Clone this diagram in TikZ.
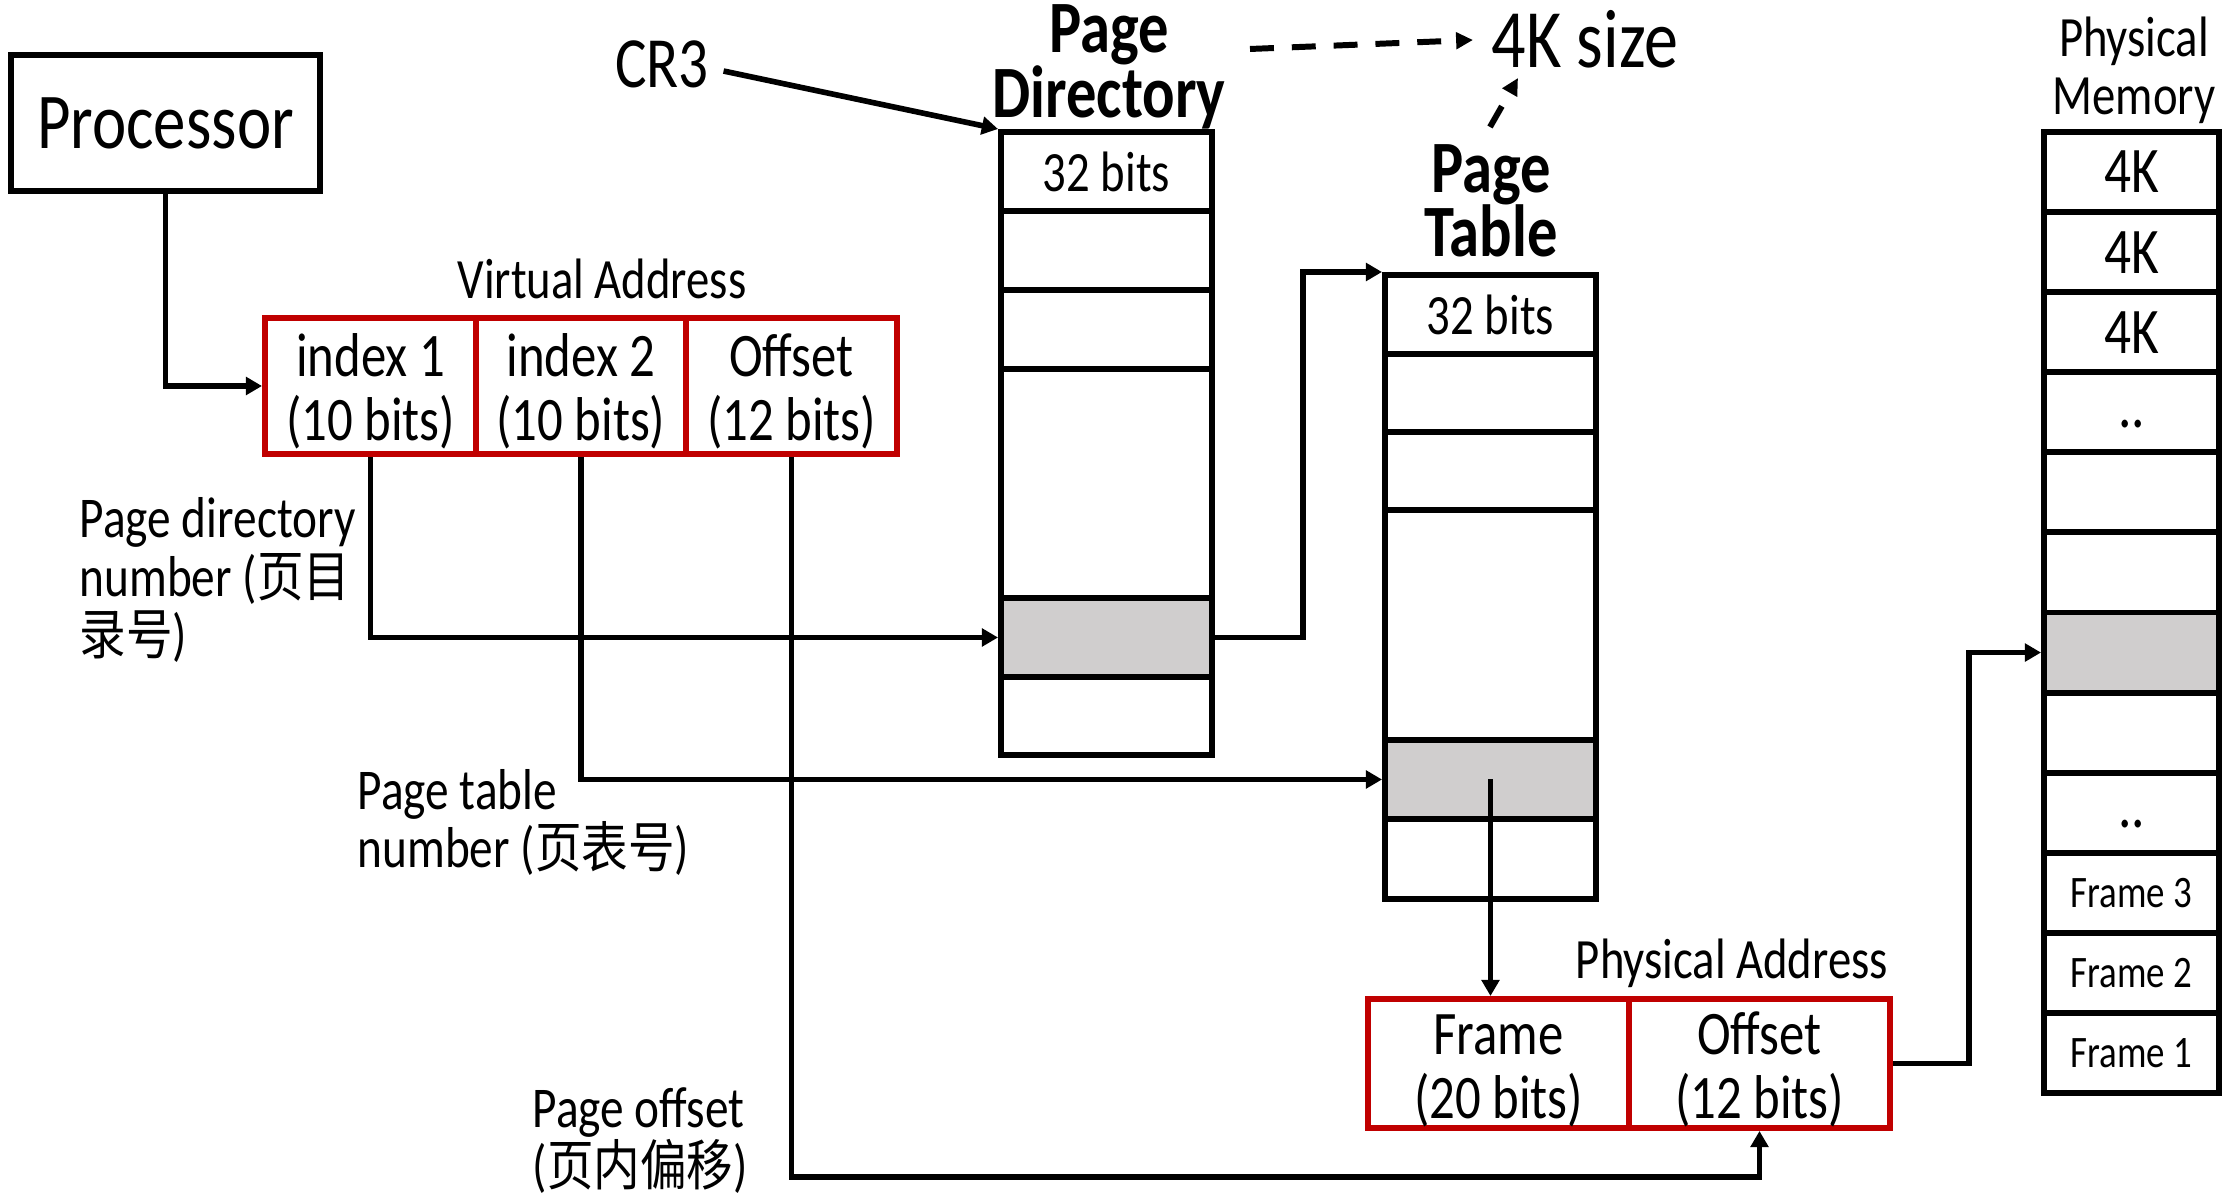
\documentclass[tikz,border=0pt]{standalone}
\usepackage{fontspec}
\setmainfont{Carlito}[FakeStretch=0.82]
\newfontfamily\cjk{Noto Sans CJK SC}[FakeStretch=0.85,Scale=0.95]
\usetikzlibrary{arrows.meta,calc}
\definecolor{boxred}{RGB}{192,0,0}
\definecolor{cellgray}{RGB}{208,206,206}
\newcommand\fs[2]{\fontsize{#1}{#2}\selectfont}
\newcommand\upstrut{\rule{0pt}{15.5pt}}
\lineskiplimit=-100pt
\begin{document}
\begin{tikzpicture}[x=0.01cm,y=-0.01cm,
  every node/.style={inner sep=0pt},
  rect/.style n args={4}{at={({(#1+#3)/2},{(#2+#4)/2})},
     minimum width={(#3-#1)*0.01cm}, minimum height={(#4-#2)*0.01cm}},
  cell/.style={draw, line width=1.7pt, inner sep=0pt, align=center},
  redcell/.style={draw=boxred, line width=1.7pt, inner sep=0pt, align=center, font=\fs{17.6}{18.2}},
  graycell/.style={cell, fill=cellgray},
  bitstext/.style={font=\fs{16.2}{17}},
  pmtext/.style={font=\fs{18.5}{19}},
  frametext/.style={font=\fs{12.8}{13}},
  conn/.style={line width=1.6pt, -{Triangle[length=4.6pt,width=5pt]}},
  dasharr/.style={line width=1.7pt, dash pattern=on 6.8pt off 5.1pt, -{Triangle[length=4.8pt,width=4.6pt]}},
  lbl/.style={align=left, font=\fs{16.4}{16.5}},
  ttl/.style={align=center, font=\bfseries\fs{21}{18.3}},
]
\useasboundingbox (0,0) rectangle (2223,1198);

% Processor
\node[cell, rect={11}{55}{320}{191}, font=\fs{22.5}{24}] (proc) {Processor};

% Virtual address
\node[font=\fs{16.2}{16.5}] (valbl) at (602,279) {Virtual Address};
\node[redcell, rect={265}{318}{476}{454}] (va1) {\upstrut index 1\\(10 bits)};
\node[redcell, rect={476}{318}{686}{454}] (va2) {\upstrut index 2\\(10 bits)};
\node[redcell, rect={686}{318}{897}{454}] (va3) {\upstrut Offset\\(12 bits)};

% CR3
\node[font=\fs{20.5}{21}] (cr3) at (662,64) {CR3};

% Page directory
\node[ttl] (pdtitle) at (1109,67) {Page\\Directory};
\node[cell, rect={1001}{132}{1212}{211}, bitstext] (pd1) {32 bits};
\node[cell, rect={1001}{211}{1212}{290}] (pd2) {};
\node[cell, rect={1001}{290}{1212}{369}] (pd3) {};
\node[cell, rect={1001}{369}{1212}{598}] (pd4) {};
\node[graycell, rect={1001}{598}{1212}{677}] (pdg) {};
\node[cell, rect={1001}{677}{1212}{755}] (pd6) {};

% 4K size
\node[font=\fs{23.6}{24}] (ksize) at (1585,39) {4K size};

% Page table
\node[ttl] (pttitle) at (1491,201) {Page\\Table};
\node[cell, rect={1385}{275}{1596}{354}, bitstext] (pt1) {32 bits};
\node[cell, rect={1385}{354}{1596}{432}] (pt2) {};
\node[cell, rect={1385}{432}{1596}{510}] (pt3) {};
\node[cell, rect={1385}{510}{1596}{740}] (pt4) {};
\node[graycell, rect={1385}{740}{1596}{819}] (ptg) {};
\node[cell, rect={1385}{819}{1596}{899}] (pt6) {};

% Physical address
\node[font=\fs{16.2}{16.5}] (palbl) at (1732,963) {Physical Address};
\node[redcell, rect={1368}{999}{1629}{1128}] (pa1) {\upstrut Frame\\(20 bits)};
\node[redcell, rect={1629}{999}{1890}{1128}] (pa2) {\upstrut Offset\\(12 bits)};

% Physical memory
\node[align=center, font=\fs{16.2}{16.5}] (pmtitle) at (2134,70) {Physical\\Memory};
\node[cell, rect={2044}{132}{2219}{212.1}, pmtext] (pm0) {4K};
\node[cell, rect={2044}{212.1}{2219}{292.2}, pmtext] (pm1) {4K};
\node[cell, rect={2044}{292.2}{2219}{372.2}, pmtext] (pm2) {4K};
\node[cell, rect={2044}{372.2}{2219}{452.3}, pmtext] (pm3) {..\vphantom{Ag}};
\node[cell, rect={2044}{452.3}{2219}{532.4}] (pm4) {};
\node[cell, rect={2044}{532.4}{2219}{612.5}] (pm5) {};
\node[graycell, rect={2044}{612.5}{2219}{692.6}] (pmg) {};
\node[cell, rect={2044}{692.6}{2219}{772.6}] (pm7) {};
\node[cell, rect={2044}{772.6}{2219}{852.7}, pmtext] (pm8) {..\vphantom{Ag}};
\node[cell, rect={2044}{852.7}{2219}{932.8}, frametext] (pm9) {Frame 3};
\node[cell, rect={2044}{932.8}{2219}{1012.9}, frametext] (pm10) {Frame 2};
\node[cell, rect={2044}{1012.9}{2219}{1093}, frametext] (pm11) {Frame 1};

% Side labels
\node[lbl, anchor=west] (pdnum) at (79,580) {Page directory\\number ({\cjk 页目}\\{\cjk 录号})};
\node[lbl, anchor=west] (ptnum) at (357,822) {Page table\\number ({\cjk 页表号})};
\node[lbl, anchor=west] (poff) at (532,1141) {Page offset\\({\cjk 页内偏移})};

% Connectors
\draw[conn] (proc.south) |- (va1.west);
\draw[conn] ([xshift=4pt,yshift=-2pt]cr3.east) -- (pd1.north west);
\draw[conn] (va1.south) |- (pdg.west);
\draw[conn] (va2.south) |- (ptg.west);
\draw[conn] (va3.south) -- ++(0,720) -| (pa2.south);
\draw[conn] (pdg.east) -- ++(88,0) |- (pt1.north west);
\draw[conn] (ptg.center) -- (ptg.center |- pa1.north);
\draw[conn] (pa2.east) -- ++(76,0) |- (pmg.west);

% Dashed arrows to 4K size
\coordinate (d1s) at (1250,49);
\coordinate (d1e) at (1473,40);
\draw[dasharr] (d1s) -- (d1e);
\coordinate (d2s) at (1490,127);
\coordinate (d2e) at (1518,78);
\draw[dasharr] (d2s) -- (d2e);
\end{tikzpicture}
\end{document}
